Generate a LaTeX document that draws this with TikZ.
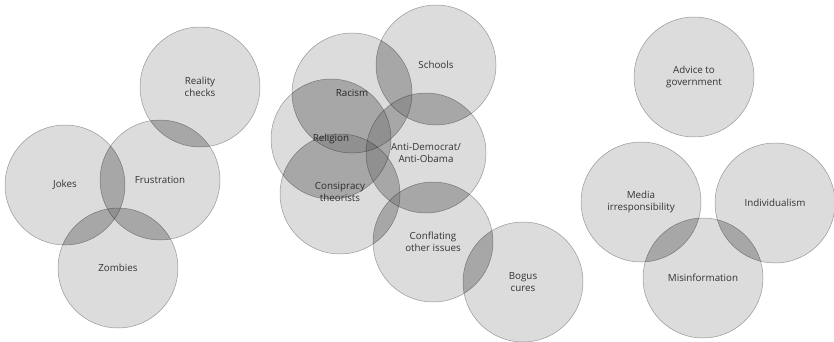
\documentclass[tikz,border=0pt]{standalone}
\usepackage{fontspec}
\setmainfont{Open Sans}
\begin{document}
\begin{tikzpicture}[x=1pt,y=-1pt,
  bub/.style={circle, minimum size=120pt, inner sep=0pt, fill=black, fill opacity=0.137,
    draw=black, draw opacity=0.35, line width=0.5pt, text opacity=1, text=black!80,
    align=center, font=\fontsize{9.8}{12}\selectfont}]
\fill[white] (0,0) rectangle (834,342);
\useasboundingbox (0,0) rectangle (834,342);
% left cluster
\node[bub] (reality) at (200,87) {Reality\\checks};
\node[bub] (jokes) at (65,185) {Jokes};
\node[bub] (frustration) at (160,180) {Frustration};
\node[bub] (zombies) at (118,268) {Zombies};
% middle cluster
\node[bub] (schools) at (436,65) {Schools};
\node[bub] (racism) at (352,93) {\raisebox{-2pt}{Racism}};
\node[bub] (religion) at (331,139) {Religion};
\node[bub] (anti) at (426,153) {Anti-Democrat/\\Anti-Obama};
\node[bub] (consp) at (340,194) {\\[-8pt]Consipracy\\theorists};
\node[bub] (confl) at (433,242) {Conflating\\other issues};
\node[bub] (bogus) at (523,282) {Bogus\\cures};
% right cluster
\node[bub] (advice) at (694,77) {Advice to\\government};
\node[bub] (media) at (641,202) {Media\\irresponsibility};
\node[bub] (indiv) at (775,203) {Individualism};
\node[bub] (misinfo) at (703,278) {Misinformation};
% overlaps: darker where two or more circles meet
\begin{scope}[transparency group, opacity=0.115]
\foreach \p [count=\i] in {reality,jokes,frustration,zombies,schools,racism,religion,anti,consp,confl,bogus,advice,media,indiv,misinfo}{
  \foreach \q [count=\j] in {reality,jokes,frustration,zombies,schools,racism,religion,anti,consp,confl,bogus,advice,media,indiv,misinfo}{
    \ifnum\j>\i
      \begin{scope}
        \clip (\p.center) circle (60);
        \fill[black] (\q.center) circle (60);
      \end{scope}
    \fi
  }
}
\end{scope}
\end{tikzpicture}
\end{document}
